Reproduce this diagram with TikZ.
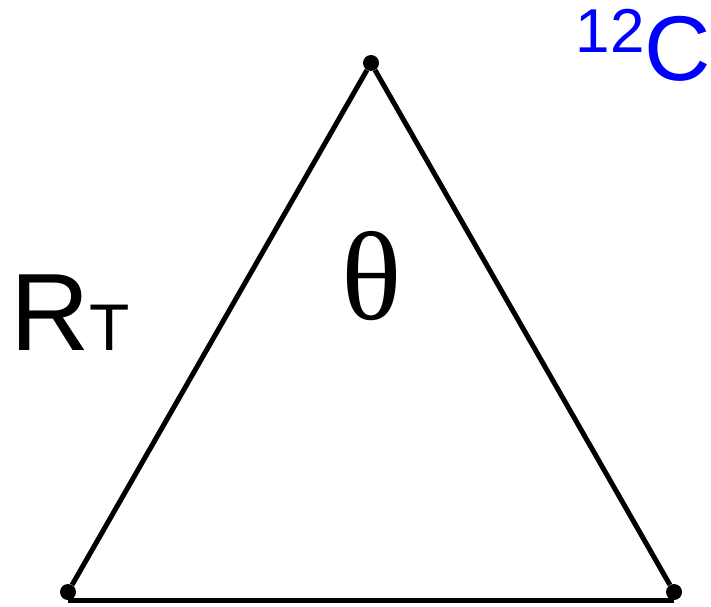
\documentclass[tikz,border=0pt]{standalone}
\usepackage{fontspec}
\setmainfont{Liberation Sans}
\newfontfamily\thetafont{Liberation Serif}
\usetikzlibrary{positioning}
\definecolor{isoblue}{RGB}{0,0,255}

\begin{document}
\begin{tikzpicture}[
  x=1pt,y=-1pt,
  vtx/.style={circle,fill=black,inner sep=0pt,minimum size=16pt},
  side/.style={line width=5pt},
  lbl/.style={inner sep=0pt,outer sep=0pt},
]
\useasboundingbox (0,0) rectangle (711,606);
% vertices
\node[vtx] (top) at (371,63) {};
\node[vtx] (bl) at (68,592) {};
\node[vtx] (br) at (674,592) {};

% sides
\draw[side] (top) -- (bl);
\draw[side] (top) -- (br);
\draw[side] (bl.south) -- (br.south);

% labels
\node[lbl,anchor=base west] (rt) at (10,350)
  {{\fontsize{110}{110}\selectfont R}{\fontsize{66}{66}\selectfont T}};
\node[lbl] (theta) at (372,276) {\thetafont\fontsize{126}{126}\selectfont θ};
\node[lbl,anchor=base east,text=isoblue] (iso) at (711,80)
  {\raisebox{28pt}{\fontsize{62}{62}\selectfont 12}\fontsize{92}{92}\selectfont C};
\end{tikzpicture}
\end{document}
